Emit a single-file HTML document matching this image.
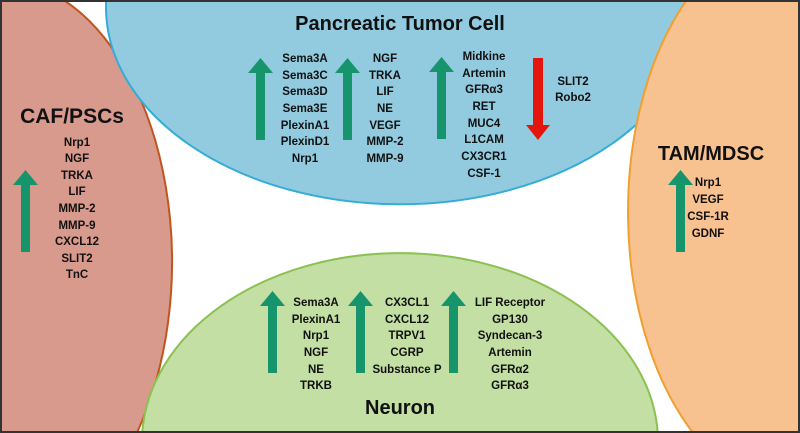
<!DOCTYPE html>
<html><head><style>
html,body{margin:0;padding:0;background:#fff;width:800px;height:433px;overflow:hidden}
svg{display:block}
text{font-family:"Liberation Sans",sans-serif;font-weight:bold;fill:#111}
.s{font-size:11.5px}
.t{font-size:20px}
</style></head><body>
<svg width="800" height="433" viewBox="0 0 800 433" xmlns="http://www.w3.org/2000/svg">
<defs>
<g id="up"><polygon points="12.5,0 25,15 17,15 17,82 8,82 8,15 0,15" fill="#16956c"/></g>
</defs>
<rect width="800" height="433" fill="#fff"/>
<path d="M0,0 L63.6,0 A172,282 0 0 1 136.8,433 L0,433 Z" fill="#d99a8e"/>
<path d="M63.6,0 A172,282 0 0 1 136.8,433" fill="none" stroke="#c0561e" stroke-width="2"/>
<path d="M106.2,0 A294,197 0 1 0 693.8,0 Z" fill="#92cbe0"/>
<path d="M106.2,0 A294,197 0 1 0 693.8,0" fill="none" stroke="#35acd6" stroke-width="2"/>
<path d="M142.3,433 A258,189 0 0 1 657.7,433 Z" fill="#c3dfa3"/>
<path d="M142.3,433 A258,189 0 0 1 657.7,433" fill="none" stroke="#8cc152" stroke-width="2"/>
<path d="M686.6,0 A172,282 0 0 0 693.2,433 L800,433 L800,0 Z" fill="#f8c190"/>
<path d="M686.6,0 A172,282 0 0 0 693.2,433" fill="none" stroke="#efa030" stroke-width="2"/>
<rect x="1" y="1" width="798" height="431" fill="none" stroke="#333" stroke-width="2"/>

<text class="t" x="400" y="30" text-anchor="middle">Pancreatic Tumor Cell</text>
<use href="#up" x="248" y="58"/><use href="#up" x="335" y="58"/><use href="#up" x="429" y="57"/>
<polygon points="538,140 550,125 543,125 543,58 533,58 533,125 526,125" fill="#e3160e"/>
<g class="s" text-anchor="middle">
<text x="305" y="62">Sema3A</text><text x="305" y="79">Sema3C</text><text x="305" y="95">Sema3D</text><text x="305" y="112">Sema3E</text><text x="305" y="129">PlexinA1</text><text x="305" y="145">PlexinD1</text><text x="305" y="162">Nrp1</text>
<text x="385" y="62">NGF</text><text x="385" y="79">TRKA</text><text x="385" y="95">LIF</text><text x="385" y="112">NE</text><text x="385" y="129">VEGF</text><text x="385" y="145">MMP-2</text><text x="385" y="162">MMP-9</text>
<text x="484" y="60">Midkine</text><text x="484" y="77">Artemin</text><text x="484" y="93">GFRα3</text><text x="484" y="110">RET</text><text x="484" y="127">MUC4</text><text x="484" y="143">L1CAM</text><text x="484" y="160">CX3CR1</text><text x="484" y="177">CSF-1</text>
<text x="573" y="85">SLIT2</text><text x="573" y="101">Robo2</text>
</g>

<text class="t" x="72" y="123" text-anchor="middle" style="font-size:21px">CAF/PSCs</text>
<use href="#up" x="13" y="170"/>
<g class="s" text-anchor="middle">
<text x="77" y="146">Nrp1</text><text x="77" y="162">NGF</text><text x="77" y="179">TRKA</text><text x="77" y="195">LIF</text><text x="77" y="212">MMP-2</text><text x="77" y="229">MMP-9</text><text x="77" y="245">CXCL12</text><text x="77" y="262">SLIT2</text><text x="77" y="278">TnC</text>
</g>

<text class="t" x="711" y="160" text-anchor="middle">TAM/MDSC</text>
<use href="#up" x="668" y="170"/>
<g class="s" text-anchor="middle">
<text x="708" y="186">Nrp1</text><text x="708" y="203">VEGF</text><text x="708" y="220">CSF-1R</text><text x="708" y="237">GDNF</text>
</g>

<text class="t" x="400" y="414" text-anchor="middle">Neuron</text>
<use href="#up" x="260" y="291"/><use href="#up" x="348" y="291"/><use href="#up" x="441" y="291"/>
<g class="s" text-anchor="middle">
<text x="316" y="306">Sema3A</text><text x="316" y="323">PlexinA1</text><text x="316" y="339">Nrp1</text><text x="316" y="356">NGF</text><text x="316" y="373">NE</text><text x="316" y="389">TRKB</text>
<text x="407" y="306">CX3CL1</text><text x="407" y="323">CXCL12</text><text x="407" y="339">TRPV1</text><text x="407" y="356">CGRP</text><text x="407" y="373">Substance P</text>
<text x="510" y="306">LIF Receptor</text><text x="510" y="323">GP130</text><text x="510" y="339">Syndecan-3</text><text x="510" y="356">Artemin</text><text x="510" y="373">GFRα2</text><text x="510" y="389">GFRα3</text>
</g>
</svg>
</body></html>
